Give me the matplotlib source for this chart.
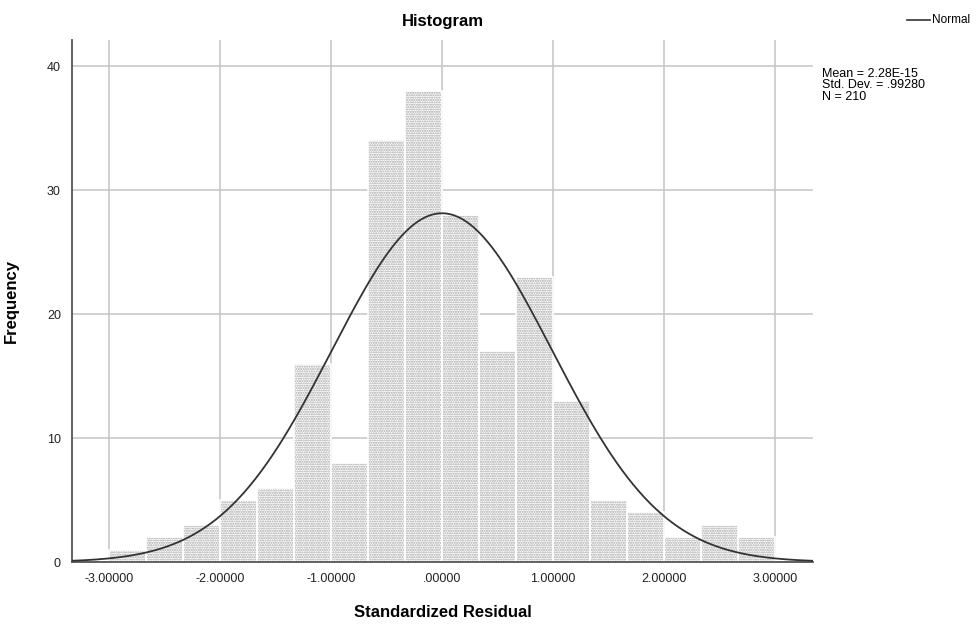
import numpy as np
import matplotlib.pyplot as plt
import matplotlib as mpl

# histogram of standardized residuals
bin_start = -3.0
bin_width = 1.0 / 3.0
counts = [1, 2, 3, 5, 6, 16, 8, 34, 38, 28, 17, 23, 13, 5, 4, 2, 3, 2]
x_ticks = [-3, -2, -1, 0, 1, 2, 3]
x_ticklabels = ["-3.00000", "-2.00000", "-1.00000", ".00000", "1.00000", "2.00000", "3.00000"]
y_ticks = [0, 10, 20, 30, 40]

mean = 2.28e-15
sd = 0.99280
n = 210

mpl.rcParams['font.family'] = ['Liberation Sans', 'DejaVu Sans']
mpl.rcParams['hatch.linewidth'] = 1.0

fig = plt.figure(figsize=(9.78, 6.26), dpi=100)
ax = fig.add_axes([0.0736, 0.1022, 0.7577, 0.8339])

lefts = bin_start + bin_width * np.arange(len(counts))
# stippled fill
ax.bar(lefts, counts, width=bin_width, align='edge', facecolor='white',
       edgecolor='#a4a4a4', linewidth=0, hatch='.......', zorder=2)
# thin white gaps between bars
ax.bar(lefts, counts, width=bin_width, align='edge', fill=False,
       edgecolor='white', linewidth=1.2, zorder=2.5)

xs = np.linspace(-3.34, 3.35, 400)
ys = n * bin_width * np.exp(-0.5 * ((xs - mean) / sd) ** 2) / (sd * np.sqrt(2 * np.pi))
ax.plot(xs, ys, color='#333333', linewidth=1.3, zorder=3)

ax.set_xlim(-3.333, 3.342)
ax.set_ylim(0, 42.1)
ax.set_xticks(x_ticks)
ax.set_xticklabels(x_ticklabels)
ax.set_yticks(y_ticks)
ax.grid(True, color='#c8c8c8', linewidth=1.2, zorder=0)
ax.set_axisbelow(True)
for s in ['top', 'right']:
    ax.spines[s].set_visible(False)
for s in ['left', 'bottom']:
    ax.spines[s].set_color('#555555')
    ax.spines[s].set_linewidth(1.3)
ax.tick_params(length=0, labelsize=9, pad=8, colors='#222222')

ax.set_title("Histogram", fontsize=12, fontweight='bold', pad=10)
ax.set_xlabel("Standardized Residual", fontsize=12, fontweight='bold', labelpad=14)
ax.set_ylabel("Frequency", fontsize=12, fontweight='bold', labelpad=20)

fig.text(0.841, 0.892, "Mean = 2.28E-15\nStd. Dev. = .99280\nN = 210",
         fontsize=9, va='top', linespacing=0.95)
fig.lines.append(plt.Line2D([0.927, 0.951], [0.968, 0.968], color='#333333',
                            linewidth=1.2, transform=fig.transFigure))
fig.text(0.953, 0.968, "Normal", fontsize=8.5, va='center')

plt.savefig("out.png", dpi=100)
